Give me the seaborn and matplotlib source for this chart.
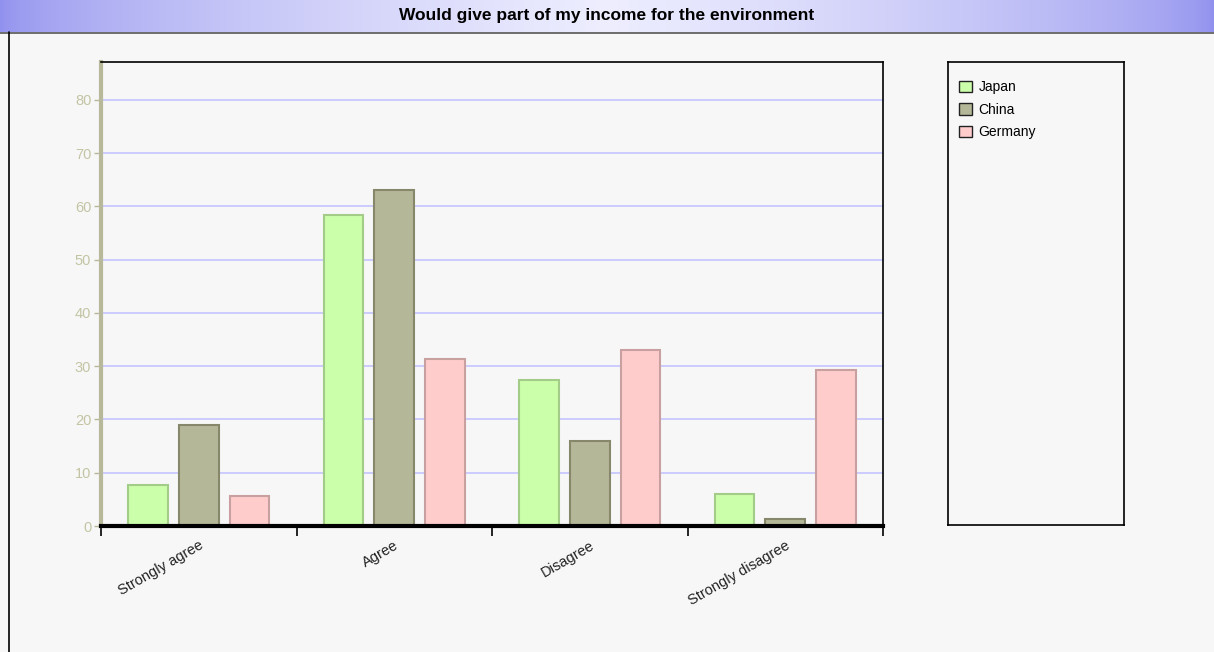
import numpy as np
import pandas as pd
import matplotlib
matplotlib.use("Agg")
import matplotlib.pyplot as plt
import seaborn as sns

categories = ["Strongly agree", "Agree", "Disagree", "Strongly disagree"]
series = ["Japan", "China", "Germany"]
japan = [7.7, 58.4, 27.4, 6.0]
china = [19.0, 63.1, 16.0, 1.3]
germany = [5.6, 31.4, 33.1, 29.3]
yticks = [0, 10, 20, 30, 40, 50, 60, 70, 80]
title = "Would give part of my income for the environment"

fills = {"Japan": "#ccffaa", "China": "#b5b898", "Germany": "#ffcccc"}
edges = {"Japan": "#a2cc88", "China": "#87876c", "Germany": "#c9a0a0"}

df = pd.DataFrame({
    "category": categories * 3,
    "country": ["Japan"] * 4 + ["China"] * 4 + ["Germany"] * 4,
    "value": japan + china + germany,
})

sns.set_theme(style="white")
plt.rcParams["font.family"] = ["Liberation Sans", "DejaVu Sans"]

W, H = 1214, 652
fig = plt.figure(figsize=(W / 100, H / 100), dpi=100, facecolor="#f7f7f7")

# title banner with gradient
bax = fig.add_axes([0, 1 - 32 / H, 1, 32 / H])
xs = np.linspace(0, 1, 600)
t = 1 - np.abs(xs - 0.5) * 2
t = np.clip(t, 0, 1) ** 0.6
edge_c = np.array([0x90, 0x90, 0xee]) / 255
cen_c = np.array([0xee, 0xee, 0xff]) / 255
grad = edge_c[None, :] * (1 - t[:, None]) + cen_c[None, :] * t[:, None]
bax.imshow(grad[None, :, :], aspect="auto", extent=[0, 1, 0, 1])
bax.set_xlim(0, 1); bax.set_ylim(0, 1)
bax.axis("off")
bax.text(0.5, 0.52, title, ha="center", va="center", fontsize=12.5,
         fontweight="bold", color="black")
fig.add_artist(plt.Line2D([0, 1], [1 - 32.5 / H, 1 - 32.5 / H],
                          color="#555555", lw=1.2, transform=fig.transFigure))
fig.add_artist(plt.Line2D([8.5 / W, 8.5 / W], [0, 1 - 32 / H],
                          color="black", lw=1.2, transform=fig.transFigure))

# main axes
ax = fig.add_axes([101 / W, 126 / H, 782 / W, 464 / H])
ax.set_facecolor("#f7f7f7")
sns.barplot(data=df, x="category", y="value", hue="country",
            order=categories, hue_order=series, saturation=1,
            palette=fills, width=0.78, gap=0.22, ax=ax, legend=False)
for cont, s in zip(ax.containers, series):
    for p in cont:
        p.set_edgecolor(edges[s])
        p.set_linewidth(1.5)
        p.set_zorder(3)

ax.set_xlim(-0.5, 3.5)
ax.set_ylim(0, 87.1)
ax.set_yticks(yticks)
ax.set_yticklabels([str(v) for v in yticks], color="#c4c4a4", fontsize=10.5)
ax.tick_params(axis="y", length=5, width=1, color="#b8b89a", pad=2, left=True)
for v in yticks[1:]:
    ax.axhline(v, color="#c8c8ff", lw=1.3, zorder=1)

ax.set_xticks([-0.5, 0.5, 1.5, 2.5, 3.5])
ax.set_xticklabels([])
ax.tick_params(axis="x", which="major", length=7, width=1.2, color="black", bottom=True)
ax.set_xticks(range(len(categories)), minor=True)
ax.set_xticklabels(categories, minor=True, rotation=30, ha="right",
                   rotation_mode="anchor", fontsize=10.5, color="#222222")
ax.tick_params(axis="x", which="minor", length=0, pad=9)
ax.set_xlabel("")
ax.set_ylabel("")

ax.spines["left"].set_color("#b8b89a")
ax.spines["left"].set_linewidth(3)
ax.spines["bottom"].set_color("black")
ax.spines["bottom"].set_linewidth(3)
ax.spines["bottom"].set_zorder(5)
ax.spines["top"].set_color("black")
ax.spines["top"].set_linewidth(1.2)
ax.spines["right"].set_color("black")
ax.spines["right"].set_linewidth(1.2)
for sp in ax.spines.values():
    sp.set_visible(True)

# legend box
lax = fig.add_axes([948 / W, (H - 525) / H, 176 / W, 463 / H])
lax.set_facecolor("#f7f7f7")
lax.set_xticks([]); lax.set_yticks([])
for sp in lax.spines.values():
    sp.set_color("black"); sp.set_linewidth(1.2)
handles = [plt.Rectangle((0, 0), 1, 1, facecolor=fills[s], edgecolor="#222222", lw=1)
           for s in series]
lax.legend(handles, series, loc="upper left", bbox_to_anchor=(0.0, 0.985),
           frameon=False, fontsize=10, handlelength=0.9, handleheight=0.9,
           handletextpad=0.5, labelspacing=0.62, borderaxespad=0.4,
           labelcolor="black")

fig.savefig("out.png", dpi=100, facecolor=fig.get_facecolor())
